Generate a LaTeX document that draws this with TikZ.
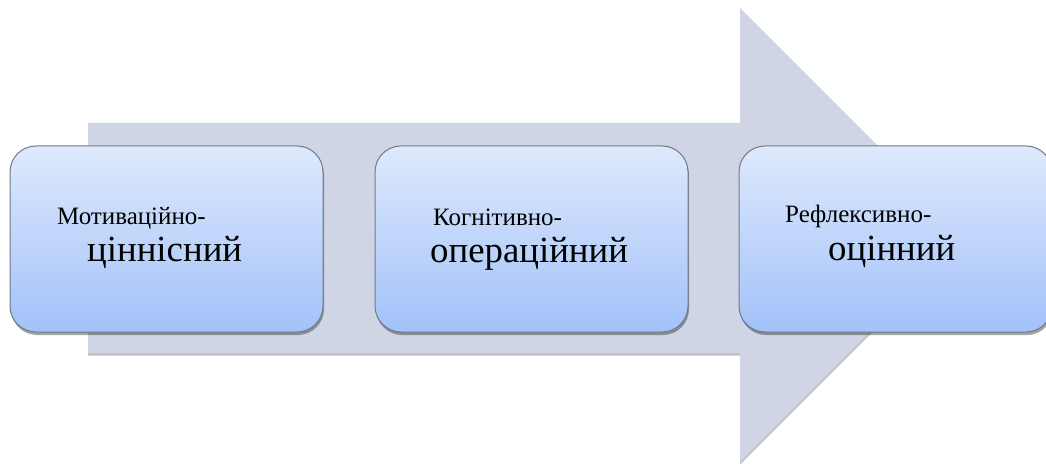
\documentclass[tikz,border=0pt]{standalone}
\usepackage{fontspec}
\setmainfont{Liberation Serif}
\usetikzlibrary{shadows}
\definecolor{arrowfill}{RGB}{207,213,229}
\definecolor{boxtop}{RGB}{222,233,252}
\definecolor{boxbot}{RGB}{162,194,249}
\definecolor{boxline}{RGB}{112,122,138}
\tikzset{
  bigarrow/.style={fill=arrowfill, draw=none,
    drop shadow={shadow xshift=0pt, shadow yshift=-2.5pt, opacity=0.35, fill=black!70}},
  stagebox/.style={draw=boxline, line width=1pt, rounded corners=26pt,
    top color=boxtop, bottom color=boxbot,
    minimum width=313pt, minimum height=186pt, inner sep=0pt,
    drop shadow={shadow xshift=1pt, shadow yshift=-3pt, opacity=0.45, fill=black!80}},
  small/.style={anchor=base west, inner sep=0pt, font=\fontsize{25}{30}\selectfont},
  big/.style={anchor=base west, inner sep=0pt, font=\fontsize{36.8}{42}\selectfont}
}
\begin{document}
\begin{tikzpicture}[x=1pt,y=1pt]
\useasboundingbox (0,0) rectangle (1046,472);
\clip (0,0) rectangle (1046,472);
\fill[white] (0,0) rectangle (1046,472);
\path[bigarrow] (88,349) -- (740,349) -- (740,464) -- (967,237) -- (740,10) -- (740,119) -- (88,119) -- cycle;
\node[stagebox] (b1) at (166.5,233) {};
\node[stagebox] (b2) at (531.5,233) {};
\node[stagebox] (b3) at (895.5,233) {};
\node[small] (t1a) at (57,248) {Мотиваційно-};
\node[big] (t1b) at (87,211) {ціннісний};
\node[small] (t2a) at (433,247) {Когнітивно-};
\node[big] (t2b) at (430,210) {операційний};
\node[small] (t3a) at (785,250) {Рефлексивно-};
\node[big] (t3b) at (828,212) {оцінний};
\end{tikzpicture}
\end{document}
